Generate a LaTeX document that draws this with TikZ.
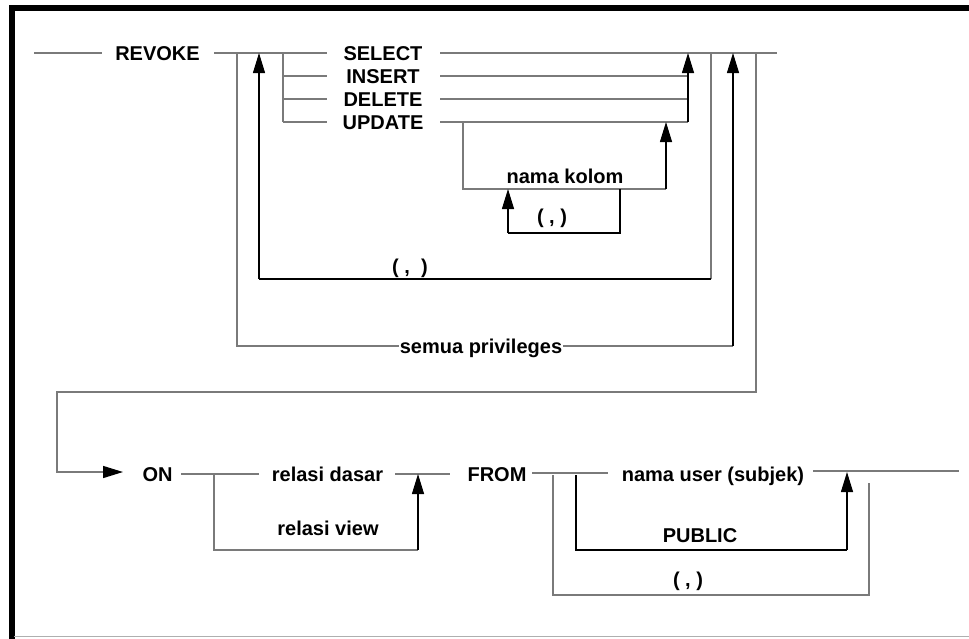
\documentclass[tikz,border=0pt]{standalone}
\usepackage{fontspec}
\setmainfont{Liberation Sans}
\usetikzlibrary{arrows.meta}
\definecolor{linegray}{RGB}{122,122,122}
\definecolor{framegray}{RGB}{175,175,175}
\begin{document}
\begin{tikzpicture}[x=1pt,y=-1pt,
  kw/.style={font=\bfseries\fontsize{20}{24}\selectfont, inner sep=0pt, anchor=base},
  gl/.style={draw=linegray, line width=1.4pt},
  bl/.style={draw=black, line width=1.1pt},
  tip/.style={-{Triangle[length=20pt,width=12pt,color=black]}},
]
\useasboundingbox (0,0) rectangle (969,638);
% frame
\draw[line width=6pt] (975,8) -- (11.5,8) -- (11.5,645);
\draw[framegray, line width=1.5pt] (14,636.5) -- (975,636.5);

% ---------- text nodes ----------
\node[kw] (revoke) at (157.5,60) {REVOKE};
\node[kw] (select) at (383,60) {SELECT};
\node[kw] (insert) at (383,83) {INSERT};
\node[kw] (delete) at (383,106) {DELETE};
\node[kw] (update) at (383,129) {UPDATE};
\node[kw] (namakolom) at (565,183) {nama kolom};
\node[kw] (commaA) at (552,223) {( , )};
\node[kw] (commaB) at (410,273) {( ,\ \ )};
\node[kw] (on) at (157.5,481) {ON};
\node[kw] (reldasar) at (327.5,481) {relasi dasar};
\node[kw] (from) at (497,481) {FROM};
\node[kw] (namauser) at (713,481) {nama user (subjek)};
\node[kw] (relview) at (328,535) {relasi view};
\node[kw] (public) at (700,542) {PUBLIC};
\node[kw] (commaC) at (688,586) {( , )};

% ---------- coordinates ----------
\coordinate (a0) at (34,53);   \coordinate (a1) at (102,53);
\coordinate (b0) at (214,53);  \coordinate (b1) at (327,53);
\coordinate (p1) at (237,53);  \coordinate (p2) at (237,346); \coordinate (p3) at (733,346); \coordinate (p4) at (733,53);
\coordinate (q1) at (259,279); \coordinate (q2) at (259,53);  \coordinate (q3) at (711,279); \coordinate (q4) at (711,53);
\coordinate (c0) at (283,53);  \coordinate (c1) at (283,76);  \coordinate (c2) at (283,99);  \coordinate (c3) at (283,122);
\coordinate (d1) at (327,76);  \coordinate (d2) at (327,99);  \coordinate (d3) at (327,122);
\coordinate (e0) at (440,53);  \coordinate (e1) at (440,76);  \coordinate (e2) at (440,99);  \coordinate (e3) at (440,122);
\coordinate (f0) at (777,53);  \coordinate (f1) at (688,76);  \coordinate (f2) at (688,99);  \coordinate (f3) at (688,122);
\coordinate (f4) at (688,53);
\coordinate (u1) at (463,122); \coordinate (u2) at (463,189); \coordinate (u3) at (666,189); \coordinate (u4) at (666,122);
\coordinate (v1) at (620,189); \coordinate (v2) at (620,233); \coordinate (v3) at (508,233); \coordinate (v4) at (508,189);
\coordinate (o1) at (756,53);  \coordinate (o2) at (756,392); \coordinate (o3) at (57,392);  \coordinate (o4) at (57,472); \coordinate (o5) at (123,472);
% lower row
\coordinate (g0) at (181,474); \coordinate (g1) at (259,474);
\coordinate (h0) at (395,474); \coordinate (h1) at (450,474);
\coordinate (i0) at (532,473); \coordinate (i1) at (608,473);
\coordinate (j0) at (813,471); \coordinate (j1) at (959,471);
\coordinate (k1) at (214,474); \coordinate (k2) at (214,550); \coordinate (k3) at (418,550); \coordinate (k4) at (418,474);
\coordinate (l1) at (576,475); \coordinate (l2) at (576,550); \coordinate (l3) at (847,550); \coordinate (l4) at (847,472);
\coordinate (m1) at (553,475); \coordinate (m2) at (553,595); \coordinate (m3) at (869,595); \coordinate (m4) at (869,483);

% ---------- connectors ----------
\draw[gl] (a0) -- (a1);
\draw[gl] (b0) -- (b1);
\draw[gl] (c0) -- (c3);
\draw[gl] (c1) -- (d1);
\draw[gl] (c2) -- (d2);
\draw[gl] (c3) -- (d3);
\draw[gl] (e0) -- (f0);
\draw[gl] (e1) -- (f1);
\draw[gl] (e2) -- (f2);
\draw[gl] (e3) -- (f3);
\draw[bl,tip] (f3) -- (f4);
% UPDATE column loop
\draw[gl] (u1) -- (u2) -- (u3);
\draw[bl,tip] (u3) -- (u4);
\draw[bl] (v1) -- (v2) -- (v3);
\draw[bl,tip] (v3) -- (v4);
% outer ( , ) loop
\draw[gl] (q4) -- (q3);
\draw[bl] (q3) -- (q1);
\draw[bl,tip] (q1) -- (q2);
% semua privileges loop
\draw[gl] (p1) -- (p2) -- (p3);
\draw[bl,tip] (p3) -- (p4);
\node[kw, fill=white, inner xsep=1pt] (semua) at (481,353) {semua privileges};
% continuation to ON
\draw[gl,tip] (o1) -- (o2) -- (o3) -- (o4) -- (o5);
% lower row
\draw[gl] (g0) -- (g1);
\draw[gl] (h0) -- (h1);
\draw[gl] (i0) -- (i1);
\draw[gl] (j0) -- (j1);
\draw[gl] (k1) -- (k2) -- (k3);
\draw[bl,tip] (k3) -- (k4);
\draw[bl] (l1) -- (l2) -- (l3);
\draw[bl,tip] (l3) -- (l4);
\draw[gl] (m1) -- (m2) -- (m3) -- (m4);
\end{tikzpicture}
\end{document}
